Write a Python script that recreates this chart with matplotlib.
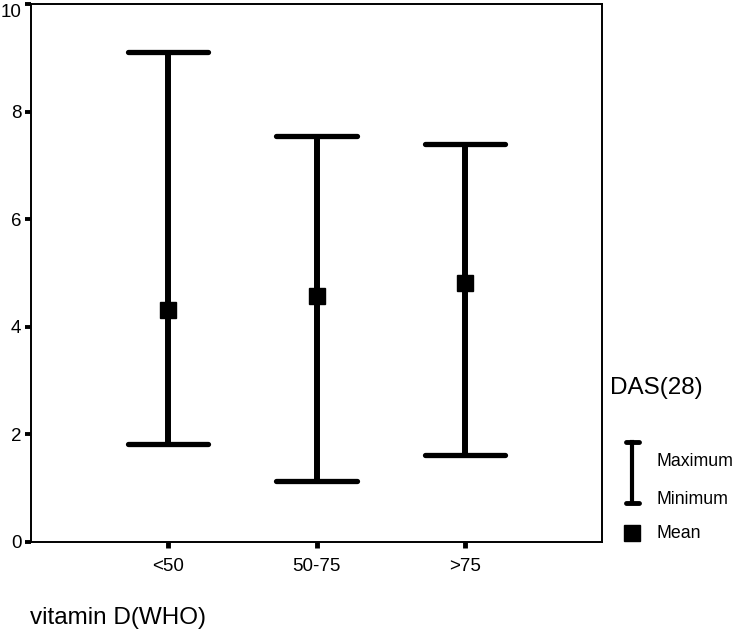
import matplotlib.pyplot as plt
from matplotlib.lines import Line2D
import numpy as np

plt.rcParams['font.family'] = ['Liberation Sans', 'DejaVu Sans']

# --- dati ---
groups = ['<50', '50-75', '>75']
max_vals = [9.10, 7.55, 7.39]
min_vals = [1.83, 1.13, 1.62]
mean_vals = [4.31, 4.57, 4.81]
y_ticks = [0, 2, 4, 6, 8, 10]

W, H = 733, 635
fig = plt.figure(figsize=(W / 100, H / 100), dpi=100)
ax = fig.add_axes([31 / W, 1 - 542 / H, (602 - 31) / W, (542 - 4) / H])

x = np.arange(1, len(groups) + 1)
cap = 0.27
ax.vlines(x, min_vals, max_vals, color='black', lw=4.3, capstyle='butt')
ax.hlines(max_vals, x - cap, x + cap, color='black', lw=3.8, capstyle='round')
ax.hlines(min_vals, x - cap, x + cap, color='black', lw=3.8, capstyle='round')
ax.plot(x, mean_vals, 's', color='black', markersize=11.5, linestyle='none')

ax.set_xlim(0.08, 3.92)
ax.set_ylim(0, 10)
ax.set_xticks(x)
ax.set_xticklabels(groups, fontsize=13.5)
ax.set_yticks(y_ticks)
ax.set_yticklabels([str(v) for v in y_ticks], fontsize=13.5)
ax.tick_params(axis='y', direction='out', length=4, width=2.8, pad=3)
ax.tick_params(axis='x', direction='out', length=4.5, width=3.5, pad=7)
# il "10" in alto non deve uscire dal bordo
ax.get_yticklabels()[-1].set_va('top')
for s in ax.spines.values():
    s.set_linewidth(1.4)

# etichetta asse x
fig.text(30 / W, 1 - 618 / H, 'vitamin D(WHO)', fontsize=17.5, va='center', ha='left')

# --- legenda stile SPSS ---
def fx(px):
    return px / W

def fy(py):
    return 1 - py / H

fig.text(fx(610), fy(388), 'DAS(28)', fontsize=17.5, va='center', ha='left')
fig.add_artist(Line2D([fx(632), fx(632)], [fy(442), fy(503)], color='black', lw=3))
for yy in (442, 503):
    fig.add_artist(Line2D([fx(626), fx(639)], [fy(yy), fy(yy)], color='black',
                          lw=3.5, solid_capstyle='round'))
fig.add_artist(Line2D([fx(632)], [fy(533)], marker='s', color='black', markersize=11))
fig.text(fx(656), fy(462), 'Maximum', fontsize=12.8, va='center', ha='left')
fig.text(fx(656), fy(499), 'Minimum', fontsize=12.8, va='center', ha='left')
fig.text(fx(656), fy(533), 'Mean', fontsize=12.8, va='center', ha='left')

fig.savefig('out.png', dpi=100)
